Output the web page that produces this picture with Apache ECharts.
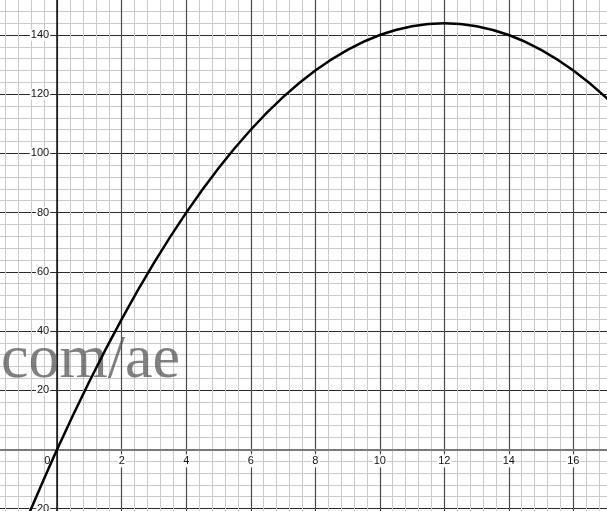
<!DOCTYPE html>
<html>
<head>
<meta charset="utf-8">
<script src="https://cdn.jsdelivr.net/npm/echarts@6/dist/echarts.min.js"></script>
<style>
  html, body { margin: 0; padding: 0; background: #fff; }
  #chart { width: 607px; height: 511px; }
</style>
</head>
<body>
<div id="chart"></div>
<script>
// Sampled points of the trajectory curve
const xValues = [-1, 0, 1, 2, 3, 4, 5, 6, 7, 8, 9, 10, 11, 12, 13, 14, 15, 16, 17, 18];
const yValues = [-25, 0, 23, 44, 63, 80, 95, 108, 119, 128, 135, 140, 143, 144, 143, 140, 135, 128, 119, 108];

// Axis ranges and steps (major grid every 2 on x, every 20 on y)
const xRange = [-2, 18];
const yRange = [-40, 160];
const xStep = 2;
const yStep = 20;

const watermarkText = 'com/ae';

// Pixel scale: ~32.26 px per x unit, ~2.959 px per y unit; origin at (57.2, 449.3)
const pxPerX = 32.26, pxPerY = 2.959;
const originX = 57.2, originY = 449.3;
const gridLeft = originX + xRange[0] * pxPerX;
const gridWidth = (xRange[1] - xRange[0]) * pxPerX;
const gridTop = originY - yRange[1] * pxPerY;
const gridHeight = (yRange[1] - yRange[0]) * pxPerY;
// Shift the axes inward so they cross at the origin
const xAxisOffset = -(gridTop + gridHeight - originY);
const yAxisOffset = -(originX - gridLeft);

const points = xValues.map((x, i) => [x, yValues[i]]);

const chart = echarts.init(document.getElementById('chart'), null, { renderer: 'canvas' });

const fontFamily = '"Liberation Sans", Arial, sans-serif';
const tickText = { fontFamily: fontFamily, fontSize: 11, color: '#111' };
const boxedText = Object.assign({ backgroundColor: '#fff', padding: [1, 1, 1, 1] }, tickText);

chart.setOption({
  animation: false,
  backgroundColor: '#fff',
  grid: {
    left: gridLeft, top: gridTop, width: gridWidth, height: gridHeight,
    containLabel: false,
    outerBoundsMode: 'none'
  },
  xAxis: {
    type: 'value',
    position: 'bottom',
    offset: xAxisOffset,
    min: xRange[0], max: xRange[1], interval: xStep,
    axisLine: { onZero: false, lineStyle: { color: '#7a7a7a', width: 2.2 } },
    axisTick: { show: false },
    axisLabel: Object.assign({
      margin: 5,
      formatter: v => v === 0 ? '{z|0}' : '{b|' + v + '}',
      rich: {
        b: boxedText,
        z: Object.assign({ padding: [1, 20, 1, 0] }, tickText)
      }
    }, tickText),
    splitLine: { show: true, lineStyle: { color: '#4a4a4a', width: 1.2 } },
    minorTick: { show: false, splitNumber: 5 },
    minorSplitLine: { show: true, lineStyle: { color: '#cacaca', width: 1 } }
  },
  yAxis: {
    type: 'value',
    position: 'left',
    offset: yAxisOffset,
    min: yRange[0], max: yRange[1], interval: yStep,
    axisLine: { onZero: false, lineStyle: { color: '#111', width: 1.5 } },
    axisTick: { show: false },
    axisLabel: Object.assign({
      margin: 7,
      backgroundColor: '#fff',
      padding: [0, 1, 0, 1],
      formatter: v => v === 0 ? '' : (v < 0 ? '\u2212' + Math.abs(v) : String(v))
    }, tickText),
    splitLine: { show: true, lineStyle: { color: '#2a2a2a', width: 1.2 } },
    minorTick: { show: false, splitNumber: 5 },
    minorSplitLine: { show: true, lineStyle: { color: '#cacaca', width: 1 } }
  },
  graphic: [{
    type: 'text',
    left: 1,
    top: 330,
    z: 1,
    silent: true,
    style: {
      text: watermarkText,
      font: '62px "Liberation Serif", "Times New Roman", serif',
      fill: 'rgba(85,85,85,0.75)'
    }
  }],
  series: [{
    type: 'line',
    data: points,
    smooth: 0.35,
    showSymbol: false,
    z: 5,
    lineStyle: { color: '#000', width: 2.5 }
  }]
});
</script>
</body>
</html>
